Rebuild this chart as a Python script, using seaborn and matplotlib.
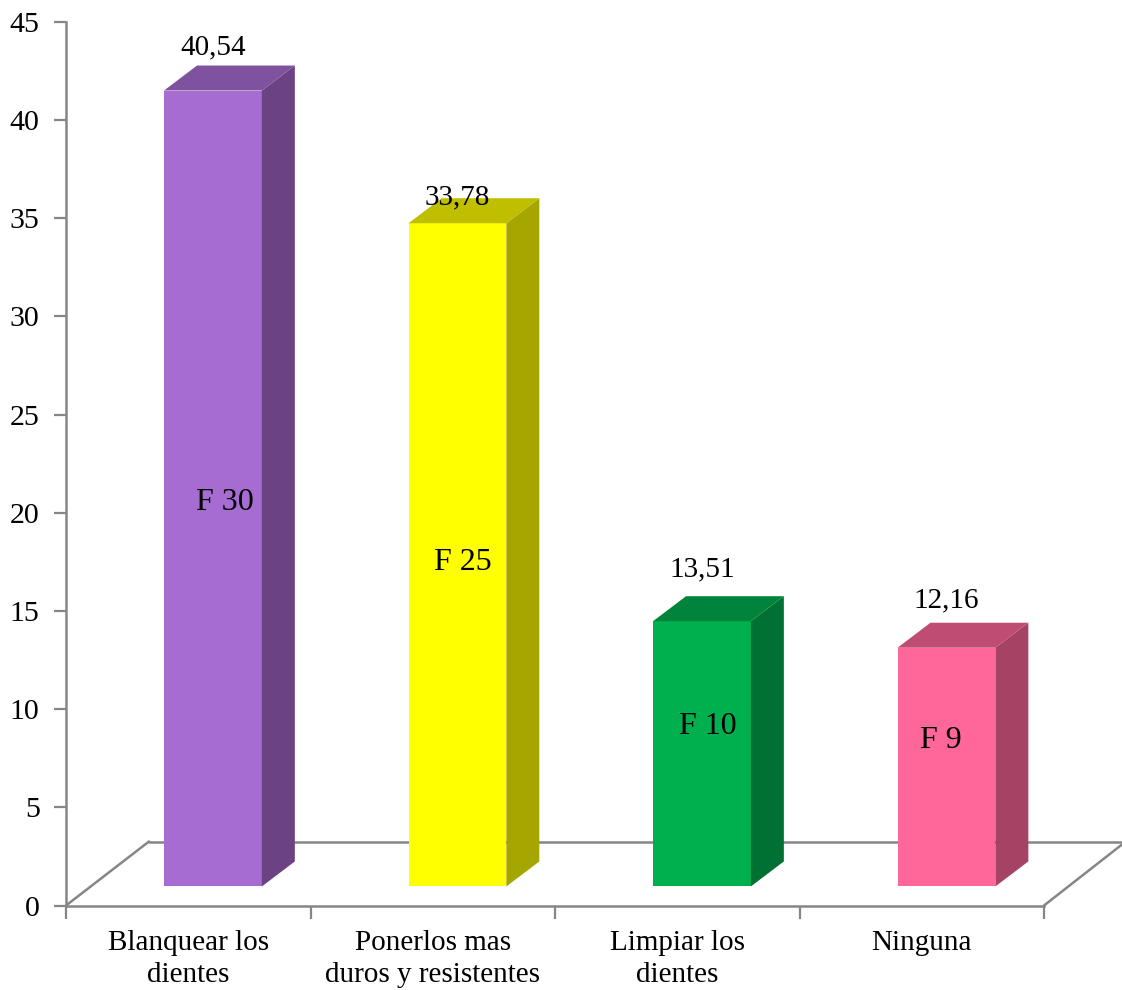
import matplotlib
matplotlib.use("Agg")
import matplotlib.pyplot as plt
import seaborn as sns
from matplotlib.patches import Polygon
from matplotlib.transforms import Affine2D

categories = ["Blanquear los\ndientes", "Ponerlos mas\nduros y resistentes", "Limpiar los\ndientes", "Ninguna"]
percent = [40.54, 33.78, 13.51, 12.16]
value_labels = ["40,54", "33,78", "13,51", "12,16"]
freq_labels = ["F 30", "F 25", "F 10", "F 9"]
front_colors = ["#A66CD2", "#FFFF00", "#00B04E", "#FF6699"]
top_colors = ["#7F529F", "#BFBF00", "#00843B", "#BF4D73"]
side_colors = ["#6B4385", "#A6A600", "#007133", "#A64263"]
y_ticks = [0, 5, 10, 15, 20, 25, 30, 35, 40, 45]

W, H = 1122, 990
AX_L, AX_R, AX_T, AX_B = 66, 1044, 22, 905.5
FLOOR_DX, FLOOR_DY = 83, 64
DEPTH_DX, DEPTH_DY = 33, 25
BAR_LIFT = 0.97
BAR_SHIFT = 0.101
GRAY = "#868686"
FS = 21

sns.set_theme(style="white")
plt.rcParams["font.family"] = ["Liberation Serif", "DejaVu Serif"]

fig = plt.figure(figsize=(W / 100, H / 100), dpi=100, facecolor="white")
ax = fig.add_axes([AX_L / W, 1 - AX_B / H, (AX_R - AX_L) / W, (AX_B - AX_T) / H])

sns.barplot(x=categories, y=percent, hue=categories, palette=front_colors, legend=False,
            width=0.4, bottom=BAR_LIFT, saturation=1, linewidth=0, ax=ax, zorder=3)
ax.set_xlim(-0.5, 3.5)
ax.set_ylim(0, 45)
ax.set_yticks(y_ticks)
ax.set_xticks([-0.5, 0.5, 1.5, 2.5, 3.5])
ax.set_xticklabels([])
ax.tick_params(axis="both", which="both", length=9, width=1.6, color=GRAY, left=True, bottom=True,
               labelsize=FS, labelcolor="black")
ax.tick_params(axis="y", pad=10, labelsize=21.5)
for name in ("top", "right"):
    ax.spines[name].set_visible(False)
for name in ("left", "bottom"):
    ax.spines[name].set_color(GRAY)
    ax.spines[name].set_linewidth(1.8)
ax.set_xlabel("")
ax.set_ylabel("")

for pos, label in enumerate(categories):
    ax.annotate(label, (pos, 0), xycoords="data", xytext=(0, -25), textcoords="offset pixels",
                ha="center", va="top", fontsize=FS, color="black", linespacing=1.26,
                annotation_clip=False)

floor_tf = Affine2D().translate(AX_L, H - AX_B)
ax.add_line(plt.Line2D([0, FLOOR_DX], [0, FLOOR_DY], color=GRAY, lw=1.8, clip_on=False, zorder=1,
                       transform=floor_tf))
ax.add_line(plt.Line2D([FLOOR_DX, W], [FLOOR_DY, FLOOR_DY], color=GRAY, lw=1.8, clip_on=False, zorder=1,
                       transform=floor_tf))
ax.add_line(plt.Line2D([AX_R - AX_L, W - AX_L], [0, FLOOR_DY - 3], color=GRAY, lw=1.8, clip_on=False, zorder=1,
                       transform=floor_tf))

value_offsets = [43, 26, 52, 47]
freq_offsets = [(12, 503), (5, 562), (6, 726), (-6, 740)]

for i, bar in enumerate(ax.patches):
    bar.set_x(bar.get_x() + BAR_SHIFT)
    x0, x1 = bar.get_x(), bar.get_x() + bar.get_width()
    y0, y1 = bar.get_y(), bar.get_y() + bar.get_height()
    (px0, py0), (px1, py1) = ax.transData.transform([(x0, y0), (x1, y1)])
    side = Polygon([(px1, py0), (px1 + DEPTH_DX, py0 + DEPTH_DY), (px1 + DEPTH_DX, py1 + DEPTH_DY), (px1, py1)],
                   closed=True, facecolor=side_colors[i], edgecolor="none", transform=None,
                   clip_on=False, zorder=3)
    top = Polygon([(px0, py1), (px0 + DEPTH_DX, py1 + DEPTH_DY), (px1 + DEPTH_DX, py1 + DEPTH_DY), (px1, py1)],
                  closed=True, facecolor=top_colors[i], edgecolor="none", transform=None,
                  clip_on=False, zorder=3)
    ax.add_artist(side)
    ax.add_artist(top)
    xc = (x0 + x1) / 2
    ax.annotate(value_labels[i], (xc, y1), xycoords="data", xytext=(0, value_offsets[i]),
                textcoords="offset pixels", ha="center", va="center", fontsize=FS, color="black",
                annotation_clip=False, zorder=5)
    ax.annotate(freq_labels[i], (xc, 0), xycoords="data",
                xytext=(freq_offsets[i][0], AX_B - freq_offsets[i][1]),
                textcoords="offset pixels", ha="center", va="center", fontsize=23, color="black",
                annotation_clip=False, zorder=5)

fig.savefig("out.png", dpi=100, facecolor="white")
